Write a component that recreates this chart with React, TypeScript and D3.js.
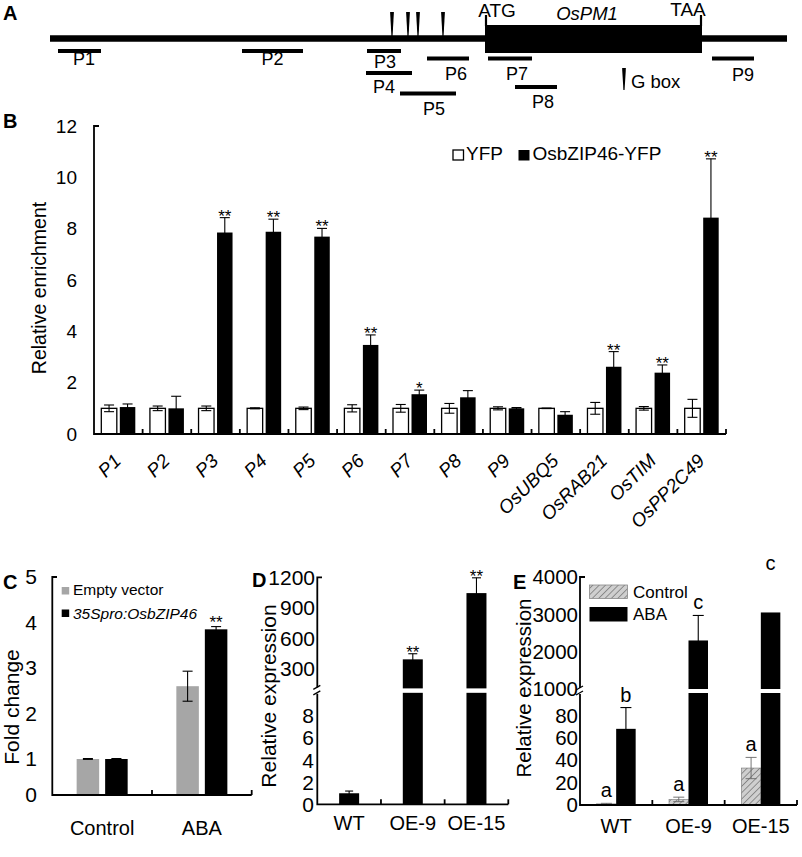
import React from 'react';
import * as d3 from 'd3';

const FONT = "'Liberation Sans', Arial, Helvetica, sans-serif";

// ===== Panel A: OsPM1 locus (relative bp, ATG = 0) =====
const aLocusExtent = [-1740, 1208];
const aCdsExtent = [0, 868];
const aGBoxSites = [-372, -308, -268, -168];
const aPrimerNames = ['P1', 'P2', 'P3', 'P4', 'P5', 'P6', 'P7', 'P8', 'P9'];
const aPrimerStart = [-1708, -972, -472, -476, -340, -232, 12, 120, 908];
const aPrimerEnd = [-1536, -728, -336, -292, -116, -64, 188, 288, 1076];
const aPrimerTrack = [0, 0, 0, 2, 4, 1, 1, 3, 1];

// ===== Panel B: ChIP enrichment =====
const bCategories = ['P1', 'P2', 'P3', 'P4', 'P5', 'P6', 'P7', 'P8', 'P9', 'OsUBQ5', 'OsRAB21', 'OsTIM', 'OsPP2C49'];
const bSeries = ['YFP', 'OsbZIP46-YFP'];
const bYfp = [1, 1, 1, 1, 1, 1, 1, 1, 1, 1, 1, 1, 1];
const bYfpErr = [0.13, 0.09, 0.09, 0.02, 0.05, 0.14, 0.15, 0.19, 0.06, 0.01, 0.23, 0.07, 0.35];
const bZip = [1.05, 1.0, 7.85, 7.88, 7.69, 3.47, 1.55, 1.43, 1.0, 0.75, 2.62, 2.39, 8.43];
const bZipErr = [0.12, 0.47, 0.58, 0.49, 0.32, 0.39, 0.16, 0.26, 0.03, 0.12, 0.59, 0.3, 2.29];
const bSig = ['', '', '**', '**', '**', '**', '*', '', '', '', '**', '**', '**'];
const bYTicks = [0, 2, 4, 6, 8, 10, 12];

// ===== Panel C: transient assay =====
const cGroups = ['Control', 'ABA'];
const cSeries = ['Empty vector', '35Spro:OsbZIP46'];
const cEmpty = [1.0, 2.6];
const cEmptyErr = [0.01, 0.33];
const cOs = [1.0, 3.85];
const cOsErr = [0.01, 0.06];
const cSig = ['', '**'];
const cYTicks = [0, 1, 2, 3, 4, 5];

// ===== Panel D: OsbZIP46 expression =====
const dGroups = ['WT', 'OE-9', 'OE-15'];
const dValues = [1.0, 395, 1045];
const dErr = [0.2, 55, 150];
const dSig = ['', '**', '**'];
const dLowTicks = [0, 2, 4, 6, 8];
const dHighTicks = [300, 600, 900, 1200];

// ===== Panel E: OsPM1 expression =====
const eGroups = ['WT', 'OE-9', 'OE-15'];
const eSeries = ['Control', 'ABA'];
const eControl = [1, 5, 33];
const eControlErr = [0.5, 2, 9.5];
const eAba = [68, 2300, 3050];
const eAbaErr = [19, 670, 0];
const eControlLetters = ['a', 'a', 'a'];
const eAbaLetters = ['b', 'c', 'c'];
const eLowTicks = [0, 20, 40, 60, 80];
const eHighTicks = [1000, 2000, 3000, 4000];

function ErrBar({ x, y1, y2, hw, sw = 1.1, color = '#000' }: any) {
  return (
    <g stroke={color} strokeWidth={sw}>
      <line x1={x} x2={x} y1={y1} y2={y2} />
      <line x1={x - hw} x2={x + hw} y1={y1} y2={y1} />
      <line x1={x - hw} x2={x + hw} y1={y2} y2={y2} />
    </g>
  );
}

function PanelA() {
  const x = d3.scaleLinear().domain(aLocusExtent).range([50, 787]);
  const trackY = d3.scaleOrdinal<number, number>().domain([0, 1, 2, 3, 4]).range([51, 58.5, 73, 87, 93.5]);
  const labelDx = [4.5, 0, 1, -5, 6, 8, 7, 7, 10];
  const labelDy = [14, 14, 17, 20, 21, 21, 21, 21, 22];
  const lineY = 38.5;
  const wedge = (cx: number, top: number, bot: number) =>
    `M${cx - 1.9},${top} L${cx + 1.9},${top} L${cx + 0.6},${bot} L${cx - 0.6},${bot} Z`;
  return (
    <g>
      <text x={3} y={20} fontSize={20} fontWeight="bold">A</text>
      <line x1={x(aLocusExtent[0])} x2={x(aLocusExtent[1])} y1={lineY} y2={lineY} stroke="#000" strokeWidth={6.5} />
      <rect x={x(aCdsExtent[0])} y={25} width={x(aCdsExtent[1]) - x(aCdsExtent[0])} height={28} fill="#000" />
      <line x1={x(aCdsExtent[0]) + 1} x2={x(aCdsExtent[0]) + 1} y1={15} y2={26} stroke="#000" strokeWidth={2.2} />
      <line x1={x(aCdsExtent[1]) - 1} x2={x(aCdsExtent[1]) - 1} y1={15} y2={26} stroke="#000" strokeWidth={2.2} />
      <text x={497} y={17} fontSize={19} textAnchor="middle">ATG</text>
      <text x={587} y={20} fontSize={18.5} fontStyle="italic" textAnchor="middle">OsPM1</text>
      <text x={688} y={16} fontSize={19} textAnchor="middle">TAA</text>
      {aGBoxSites.map((s, i) => (
        <path key={i} d={wedge(x(s), 12, 36)} fill="#000" />
      ))}
      {aPrimerNames.map((n, i) => {
        const y = trackY(aPrimerTrack[i]);
        const x1 = x(aPrimerStart[i]);
        const x2 = x(aPrimerEnd[i]);
        return (
          <g key={n}>
            <line x1={x1} x2={x2} y1={y} y2={y} stroke="#000" strokeWidth={4.2} />
            <text x={(x1 + x2) / 2 + labelDx[i]} y={y + labelDy[i]} fontSize={18} textAnchor="middle">{n}</text>
          </g>
        );
      })}
      <path d={wedge(624, 68, 90)} fill="#000" />
      <text x={631} y={88} fontSize={18.5}>G box</text>
    </g>
  );
}

function PanelB() {
  const x = d3.scaleBand().domain(bCategories).range([94, 726]).padding(0);
  const inner = d3.scaleBand().domain(bSeries).range([0, x.bandwidth()]).paddingInner(0.162).paddingOuter(0.395);
  const y = d3.scaleLinear().domain([0, 12]).range([434, 126]);
  const bw = inner.bandwidth();
  return (
    <g>
      <text x={3} y={128} fontSize={20} fontWeight="bold">B</text>
      {bYTicks.map((t) => (
        <text key={t} x={77} y={y(t)} dy="0.35em" fontSize={19} textAnchor="end">{t}</text>
      ))}
      <text transform={`translate(46,${(y(0) + y(12)) / 2 + 8}) rotate(-90)`} fontSize={19.5} textAnchor="middle">Relative enrichment</text>
      {bCategories.map((c, i) => {
        const x0 = x(c)!;
        const xw = x0 + inner(bSeries[0])!;
        const xb = x0 + inner(bSeries[1])!;
        return (
          <g key={c}>
            <rect x={xw} y={y(bYfp[i])} width={bw} height={y(0) - y(bYfp[i])} fill="#fff" stroke="#000" strokeWidth={1.3} />
            <rect x={xb} y={y(bZip[i])} width={bw} height={y(0) - y(bZip[i])} fill="#000" />
            <ErrBar x={xw + bw / 2} y1={y(bYfp[i] + bYfpErr[i])} y2={y(bYfp[i] - bYfpErr[i])} hw={5} />
            <ErrBar x={xb + bw / 2} y1={y(bZip[i] + bZipErr[i])} y2={y(bZip[i] - bZipErr[i])} hw={5} />
            {bSig[i] && (
              <text x={xb + bw / 2} y={y(bZip[i] + bZipErr[i]) + 4} fontSize={17} textAnchor="middle">{bSig[i]}</text>
            )}
            <text transform={`translate(${x0 + x.bandwidth() / 2 + 4},462) rotate(-45)`} fontSize={19} fontStyle="italic" textAnchor="end">{c}</text>
          </g>
        );
      })}
      <g stroke="#000" strokeWidth={1.8} fill="none">
        <path d={`M99,${y(12)} H94 V${y(0)} H726`} />
        {bCategories.map((c) => {
          const xe = x(c)! + x.bandwidth();
          return <line key={c} x1={xe} x2={xe} y1={y(0)} y2={y(0) - 5} />;
        })}
      </g>
      <rect x={453} y={150} width={10.5} height={10} fill="#fff" stroke="#000" strokeWidth={1.3} />
      <text x={466} y={160} fontSize={19}>{bSeries[0]}</text>
      <rect x={518.5} y={150} width={11} height={10.5} fill="#000" />
      <text x={532.5} y={160} fontSize={19}>{bSeries[1]}</text>
    </g>
  );
}

function PanelC() {
  const x = d3.scaleBand().domain(cGroups).range([52.3, 251.7]).padding(0);
  const inner = d3.scaleBand().domain(cSeries).range([0, x.bandwidth()]).paddingInner(0.21).paddingOuter(0.854);
  const y = d3.scaleLinear().domain([0, 1, 5]).range([795, 759, 577]);
  const bw = inner.bandwidth();
  const colors = ['#a6a6a6', '#000'];
  return (
    <g>
      <text x={3} y={589} fontSize={20} fontWeight="bold">C</text>
      {cYTicks.map((t) => (
        <text key={t} x={37} y={y(t)} dy="0.35em" fontSize={21} textAnchor="end">{t}</text>
      ))}
      <text transform={`translate(19,707) rotate(-90)`} fontSize={21} textAnchor="middle">Fold change</text>
      {cGroups.map((g, i) => {
        const x0 = x(g)!;
        const vals = [cEmpty[i], cOs[i]];
        const errs = [cEmptyErr[i], cOsErr[i]];
        return (
          <g key={g}>
            {cSeries.map((s, j) => {
              const bx = x0 + inner(s)!;
              return (
                <g key={s}>
                  <rect x={bx} y={y(vals[j])} width={bw} height={y(0) - y(vals[j])} fill={colors[j]} />
                  <ErrBar x={bx + bw / 2} y1={y(vals[j] + errs[j])} y2={y(vals[j] - errs[j])} hw={5} sw={1.1} />
                </g>
              );
            })}
            {cSig[i] && (
              <text x={x0 + inner(cSeries[1])! + bw / 2} y={y(cOs[i] + cOsErr[i]) + 1} fontSize={17} textAnchor="middle">{cSig[i]}</text>
            )}
            <text x={x0 + x.bandwidth() / 2} y={835} fontSize={20} textAnchor="middle">{g}</text>
          </g>
        );
      })}
      <g stroke="#000" strokeWidth={1.8} fill="none">
        <path d={`M57,${y(5)} H52.3 V${y(0)} H251.7`} />
        {cGroups.map((g) => {
          const xe = x(g)! + x.bandwidth();
          return <line key={g} x1={xe} x2={xe} y1={y(0)} y2={y(0) - 5} />;
        })}
      </g>
      <rect x={61.7} y={587} width={7.5} height={7.5} fill={colors[0]} />
      <text x={73} y={595} fontSize={15.5}>{cSeries[0]}</text>
      <rect x={61.7} y={609.5} width={7.5} height={7.5} fill={colors[1]} />
      <text x={73} y={619} fontSize={15.5} fontStyle="italic">{cSeries[1]}</text>
    </g>
  );
}

function PanelD() {
  const x = d3.scaleBand().domain(dGroups).range([317.3, 508.3]).padding(0);
  const yLow = d3.scaleLinear().domain([0, 8]).range([804.3, 716]);
  const yHigh = d3.scaleLinear().domain([0, 1200]).range([699.6, 577.3]);
  const lowTop = yLow(10.1);
  const highBottom = yHigh(110);
  const bw = 20;
  const ax = 317.3;
  return (
    <g>
      <text x={252} y={587} fontSize={20} fontWeight="bold">D</text>
      {dLowTicks.map((t) => (
        <text key={t} x={314} y={yLow(t)} dy="0.35em" fontSize={21} textAnchor="end">{t}</text>
      ))}
      {dHighTicks.map((t) => (
        <text key={t} x={315} y={yHigh(t)} dy="0.35em" fontSize={21} textAnchor="end">{t}</text>
      ))}
      <text transform={`translate(276,696) rotate(-90)`} fontSize={21} textAnchor="middle">Relative expression</text>
      {dGroups.map((g, i) => {
        const cx = x(g)! + x.bandwidth() / 2;
        const v = dValues[i];
        const e = dErr[i];
        const high = v > 10;
        const yTop = high ? yHigh(v + e) : yLow(v + e);
        return (
          <g key={g}>
            {high ? (
              <>
                <rect x={cx - bw / 2} y={lowTop} width={bw} height={yLow(0) - lowTop} fill="#000" />
                <rect x={cx - bw / 2} y={yHigh(v)} width={bw} height={highBottom - yHigh(v)} fill="#000" />
                <ErrBar x={cx} y1={yHigh(v + e)} y2={yHigh(v - e)} hw={4.5} />
              </>
            ) : (
              <>
                <rect x={cx - bw / 2} y={yLow(v)} width={bw} height={yLow(0) - yLow(v)} fill="#000" />
                <ErrBar x={cx} y1={yLow(v + e)} y2={yLow(v - e)} hw={4} />
              </>
            )}
            {dSig[i] && (
              <text x={cx} y={yTop + 4} fontSize={17} textAnchor="middle">{dSig[i]}</text>
            )}
            <text x={cx} y={830} fontSize={20} textAnchor="middle">{g}</text>
          </g>
        );
      })}
      <g stroke="#000" strokeWidth={1.8} fill="none">
        <path d={`M322,${yHigh(1200)} H${ax} V${highBottom - 1}`} />
        <path d={`M${ax},${lowTop + 1} V${yLow(0)} H508.3`} />
        <line x1={ax - 4} x2={ax + 3} y1={highBottom + 1} y2={highBottom - 3} strokeWidth={1.3} />
        <line x1={ax - 4} x2={ax + 3} y1={lowTop + 2} y2={lowTop - 2} strokeWidth={1.3} />
        {dGroups.map((g) => {
          const xe = x(g)! + x.bandwidth();
          return <line key={g} x1={xe} x2={xe} y1={yLow(0)} y2={yLow(0) - 5} />;
        })}
      </g>
    </g>
  );
}

function PanelE() {
  const x = d3.scaleBand().domain(eGroups).range([580, 797]).padding(0);
  const inner = d3.scaleBand().domain(eSeries).range([0, x.bandwidth()]).paddingInner(0).paddingOuter(0.855);
  const yLow = d3.scaleLinear().domain([0, 100]).range([805, 693]);
  const yHigh = d3.scaleLinear().domain([1000, 4000]).range([689, 577]);
  const bw = inner.bandwidth();
  const ax = 580;
  const lowTop = yLow(100);
  const highBottom = yHigh(1000);
  const letterLift = [0, 0, 36];
  const drawBar = (bx: number, v: number, e: number, fill: string, key: string, letter: string, lift: number) => {
    const high = v > 100;
    const cx = bx + bw / 2;
    const yTop = high ? yHigh(v + e) : yLow(v + e);
    return (
      <g key={key}>
        {high ? (
          <>
            <rect x={bx} y={lowTop} width={bw} height={yLow(0) - lowTop} fill={fill} />
            <rect x={bx} y={yHigh(v)} width={bw} height={highBottom - yHigh(v)} fill={fill} />
            {e > 0 && <ErrBar x={cx} y1={yHigh(v + e)} y2={yHigh(v - e)} hw={5.5} />}
          </>
        ) : (
          <>
            <rect x={bx} y={yLow(v)} width={bw} height={yLow(0) - yLow(v)} fill={fill} stroke={fill === '#000' ? 'none' : '#777'} strokeWidth={0.6} />
            {e > 0 && <ErrBar x={cx} y1={yLow(v + e)} y2={yLow(Math.max(0, v - e))} hw={5.5} sw={fill === '#000' ? 1.1 : 0.9} color={fill === '#000' ? '#000' : '#666'} />}
          </>
        )}
        <text x={cx} y={yTop - 6 - lift} fontSize={20} textAnchor="middle">{letter}</text>
      </g>
    );
  };
  return (
    <g>
      <defs>
        <pattern id="hatchE" patternUnits="userSpaceOnUse" width={4.5} height={4.5} patternTransform="rotate(45)">
          <rect width={4.5} height={4.5} fill="#cfcfcf" />
          <line x1={0} y1={0} x2={0} y2={4.5} stroke="#555" strokeWidth={1.1} />
        </pattern>
      </defs>
      <text x={513} y={589} fontSize={20} fontWeight="bold">E</text>
      {eLowTicks.map((t) => (
        <text key={t} x={578} y={yLow(t)} dy="0.35em" fontSize={20.5} textAnchor="end">{t}</text>
      ))}
      {eHighTicks.map((t) => (
        <text key={t} x={578} y={yHigh(t)} dy="0.35em" fontSize={20.5} textAnchor="end">{t}</text>
      ))}
      <text transform={`translate(531,688) rotate(-90)`} fontSize={20.5} textAnchor="middle">Relative expression</text>
      {eGroups.map((g, i) => {
        const x0 = x(g)!;
        return (
          <g key={g}>
            {drawBar(x0 + inner(eSeries[0])!, eControl[i], eControlErr[i], 'url(#hatchE)', 'c', eControlLetters[i], 0)}
            {drawBar(x0 + inner(eSeries[1])!, eAba[i], eAbaErr[i], '#000', 'a', eAbaLetters[i], letterLift[i])}
            <text x={x0 + x.bandwidth() / 2} y={833} fontSize={20} textAnchor="middle">{g}</text>
          </g>
        );
      })}
      <g stroke="#000" strokeWidth={1.8} fill="none">
        <path d={`M585,${yHigh(4000)} H${ax} V${highBottom - 1}`} />
        <path d={`M${ax},${lowTop + 1} V${yLow(0)} H797`} />
        <line x1={ax - 4} x2={ax + 3} y1={highBottom + 1} y2={highBottom - 3} strokeWidth={1.3} />
        <line x1={ax - 4} x2={ax + 3} y1={lowTop + 2} y2={lowTop - 2} strokeWidth={1.3} />
        {eGroups.map((g) => {
          const xe = x(g)! + x.bandwidth();
          return <line key={g} x1={xe} x2={xe} y1={yLow(0)} y2={yLow(0) - 5} />;
        })}
      </g>
      <rect x={589.5} y={585} width={38} height={13.5} fill="url(#hatchE)" stroke="#888" strokeWidth={0.8} />
      <text x={633} y={598} fontSize={17}>{eSeries[0]}</text>
      <rect x={589.5} y={607} width={38} height={14.5} fill="#000" />
      <text x={633} y={620} fontSize={17}>{eSeries[1]}</text>
    </g>
  );
}

export default function App() {
  return (
    <svg
      width={802}
      height={857}
      viewBox="0 0 802 857"
      style={{ position: 'absolute', left: 0, top: 0, background: '#fff' }}
      fontFamily={FONT}
    >
      <rect width={802} height={857} fill="#fff" />
      <PanelA />
      <PanelB />
      <PanelC />
      <PanelD />
      <PanelE />
    </svg>
  );
}
